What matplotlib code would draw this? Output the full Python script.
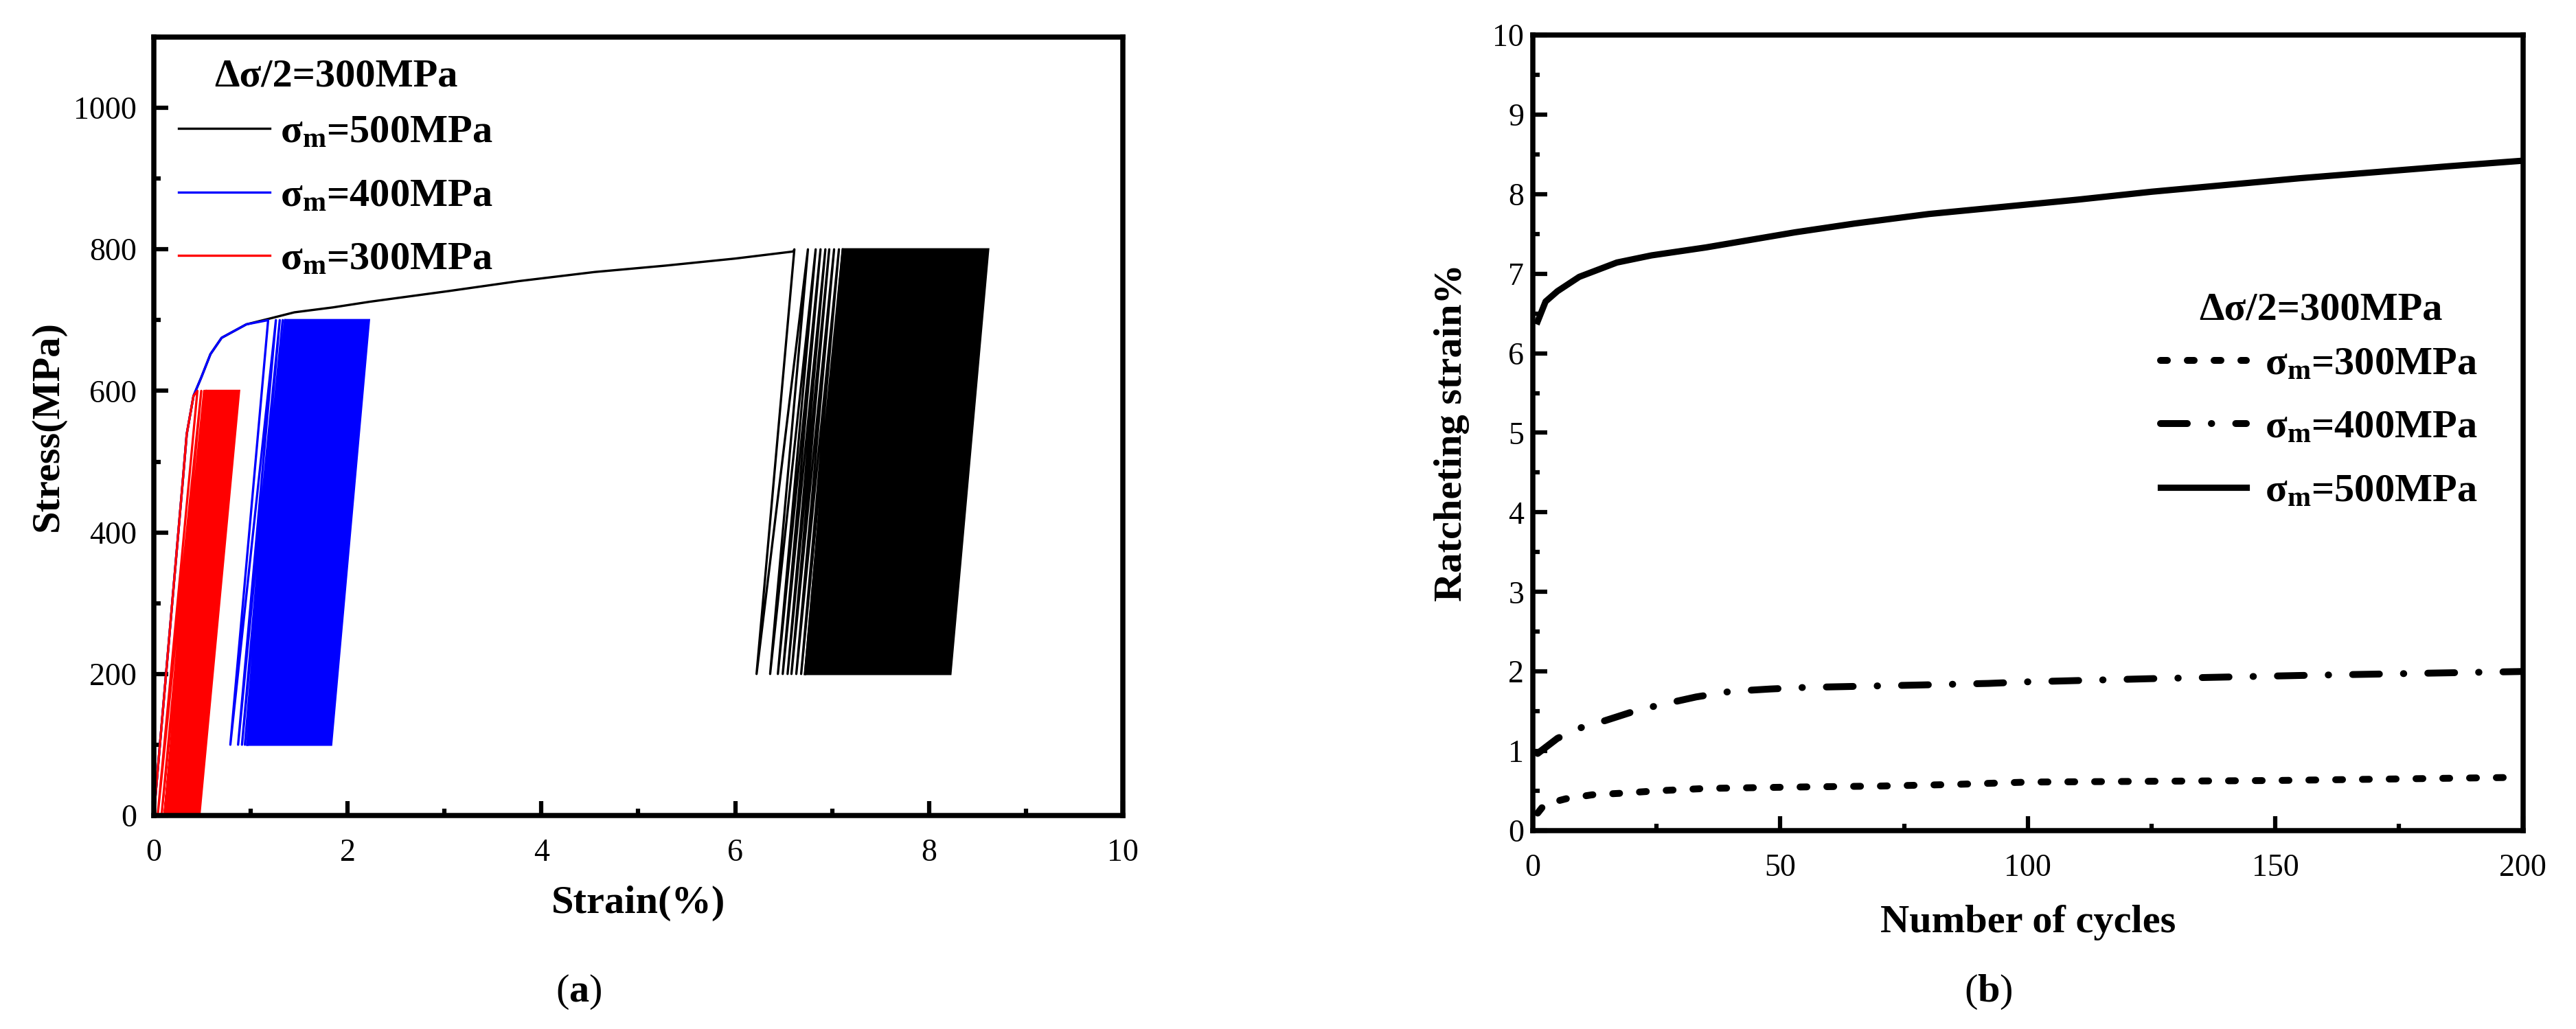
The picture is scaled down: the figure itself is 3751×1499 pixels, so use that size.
import numpy as np
import matplotlib.pyplot as plt
from matplotlib.ticker import MultipleLocator

plt.rcParams['font.family'] = 'Liberation Serif'
plt.rcParams['mathtext.fontset'] = 'custom'
plt.rcParams['mathtext.rm'] = 'Liberation Serif'
plt.rcParams['mathtext.bf'] = 'Liberation Serif:bold'
plt.rcParams['mathtext.it'] = 'Liberation Serif:italic'

# ---- (a) stress-strain, strain in %, stress in MPa ----
mono_strain_300 = [0.0, 0.30, 0.34, 0.41, 0.45]
mono_stress_300 = [0, 474, 539, 593, 600]
mono_strain_400 = [0.0, 0.30, 0.34, 0.41, 0.49, 0.585, 0.70, 0.955, 1.18]
mono_stress_400 = [0, 474, 539, 593, 619, 652, 675, 694, 700]
mono_strain_500 = [0.0, 0.30, 0.34, 0.41, 0.49, 0.585, 0.70, 0.955, 1.19, 1.45, 1.85,
                   2.23, 3.04, 3.76, 4.55, 5.28, 6.0, 6.6]
mono_stress_500 = [0, 474, 539, 593, 619, 652, 675, 694, 702, 711, 718,
                   726, 741, 755, 768, 777, 787, 797]

# peak strains of the first (separated) cycles, and of the last cycle
peaks_300 = [0.45, 0.49, 0.52, 0.54]
peaks_400 = [1.18, 1.26, 1.30, 1.33, 1.355]
peaks_500 = [6.61, 6.75, 6.83, 6.88, 6.93, 6.97, 7.02, 7.07, 7.11]
last_peak = [0.88, 2.22, 8.61]
loop_width = [0.41, 0.39, 0.39]
stress_min = [0, 100, 200]
stress_max = [600, 700, 800]

# ---- (b) ratcheting strain vs cycles ----
cycles_300 = [1, 2.4, 6.7, 12, 18, 25, 35, 45, 56, 70, 85, 100, 125, 150, 175, 200]
strain_300 = [0.22, 0.33, 0.40, 0.45, 0.47, 0.50, 0.53, 0.54, 0.55, 0.56, 0.58, 0.61,
              0.62, 0.63, 0.65, 0.67]
cycles_400 = [1, 5, 10, 14, 20, 25, 33, 40, 48, 55, 63, 78, 92, 100, 125, 155, 200]
strain_400 = [0.97, 1.16, 1.30, 1.37, 1.49, 1.57, 1.68, 1.75, 1.78, 1.80, 1.81, 1.83,
              1.85, 1.87, 1.91, 1.95, 2.00]
cycles_500 = [1, 2.6, 5, 9.4, 17, 24, 35, 53, 65, 80, 95, 110, 125, 155, 185, 200]
strain_500 = [6.40, 6.65, 6.78, 6.96, 7.14, 7.23, 7.33, 7.52, 7.63, 7.75, 7.84, 7.93,
              8.03, 8.20, 8.35, 8.42]

labels = ['σ$_\\mathbf{m}$=300MPa', 'σ$_\\mathbf{m}$=400MPa', 'σ$_\\mathbf{m}$=500MPa']
title = 'Δσ/2=300MPa'


def draw_ratchet(ax, mono_e, mono_s, peaks, p_last, w, s_lo, s_hi, color, label):
    e = list(mono_e)
    s = list(mono_s)
    for p in peaks:
        e += [p, p - w]
        s += [s_hi, s_lo]
    line, = ax.plot(e, s, color=color, lw=0.8, label=label)
    p0 = peaks[-1]
    ax.fill([p0 - w, p0, p_last, p_last - w], [s_lo, s_hi, s_hi, s_lo],
            facecolor=color, edgecolor=color, lw=0.8)
    return line


def style_axes(ax, ypad):
    for sp in ax.spines.values():
        sp.set_linewidth(1.8)
    ax.tick_params(which='both', direction='in', top=False, right=False, width=1.5,
                   labelsize=11)
    ax.tick_params(which='major', length=5)
    ax.tick_params(which='minor', length=2.5)
    ax.tick_params(axis='x', pad=8)
    ax.tick_params(axis='y', pad=ypad)


fig = plt.figure(figsize=(3751 / 300, 1499 / 300), dpi=300)
ax1 = fig.add_axes([0.0597, 0.2075, 0.3762, 0.7565])
ax2 = fig.add_axes([0.5950, 0.1928, 0.3844, 0.7732])

h500 = draw_ratchet(ax1, mono_strain_500, mono_stress_500, peaks_500, last_peak[2],
                    loop_width[2], stress_min[2], stress_max[2], 'black', labels[2])
h400 = draw_ratchet(ax1, mono_strain_400, mono_stress_400, peaks_400, last_peak[1],
                    loop_width[1], stress_min[1], stress_max[1], 'blue', labels[1])
h300 = draw_ratchet(ax1, mono_strain_300, mono_stress_300, peaks_300, last_peak[0],
                    loop_width[0], stress_min[0], stress_max[0], 'red', labels[0])

ax1.set_xlim(0, 10)
ax1.set_ylim(0, 1100)
ax1.xaxis.set_major_locator(MultipleLocator(2))
ax1.xaxis.set_minor_locator(MultipleLocator(1))
ax1.yaxis.set_major_locator(MultipleLocator(200))
ax1.yaxis.set_minor_locator(MultipleLocator(100))
ax1.set_yticks([0, 200, 400, 600, 800, 1000])
style_axes(ax1, 6)
ax1.set_xlabel('Strain(%)', fontsize=14, fontweight='bold')
ax1.set_ylabel('Stress(MPa)', fontsize=14, fontweight='bold')
ax1.xaxis.set_label_coords(0.5, -0.09)
ax1.yaxis.set_label_coords(-0.091, 0.5)

ax1.text(0.1885, 0.949, title, transform=ax1.transAxes, fontsize=14,
         fontweight='bold', ha='center', va='center')
ax1.legend(handles=[h500, h400, h300], loc='upper left',
           bbox_to_anchor=(0.0255, 0.9005), frameon=False,
           prop={'size': 14, 'weight': 'bold'}, handlelength=2.28,
           handletextpad=0.26, labelspacing=0.68, borderpad=0, borderaxespad=0)

l300, = ax2.plot(cycles_300, strain_300, color='black', lw=2.4,
                 linestyle=(0, (1.0, 2.9)), dash_capstyle='round', label=labels[0])
l400, = ax2.plot(cycles_400, strain_400, color='black', lw=2.4,
                 linestyle=(0, (3.9, 3.5, 0.05, 3.5)), dash_capstyle='round',
                 label=labels[1])
l500, = ax2.plot(cycles_500, strain_500, color='black', lw=2.2, label=labels[2])

ax2.set_xlim(0, 200)
ax2.set_ylim(0, 10)
ax2.xaxis.set_major_locator(MultipleLocator(50))
ax2.xaxis.set_minor_locator(MultipleLocator(25))
ax2.yaxis.set_major_locator(MultipleLocator(1))
ax2.yaxis.set_minor_locator(MultipleLocator(0.5))
style_axes(ax2, 3)
ax2.set_xlabel('Number of cycles', fontsize=14, fontweight='bold')
ax2.set_ylabel('Ratcheting strain%', fontsize=14, fontweight='bold')
ax2.xaxis.set_label_coords(0.5, -0.093)
ax2.yaxis.set_label_coords(-0.064, 0.5)

ax2.text(0.796, 0.654, title, transform=ax2.transAxes, fontsize=14,
         fontweight='bold', ha='center', va='center')
ax2.legend(handles=[l300, l400, l500], loc='upper left',
           bbox_to_anchor=(0.634, 0.609), frameon=False,
           prop={'size': 14, 'weight': 'bold'}, handlelength=2.14,
           handletextpad=0.46, labelspacing=0.68, borderpad=0, borderaxespad=0)

fig.text(0.2247, 0.036, r'($\mathbf{a}$)', fontsize=14, ha='center', va='center')
fig.text(0.7718, 0.036, r'($\mathbf{b}$)', fontsize=14, ha='center', va='center')

fig.savefig('out.png', dpi=300)
